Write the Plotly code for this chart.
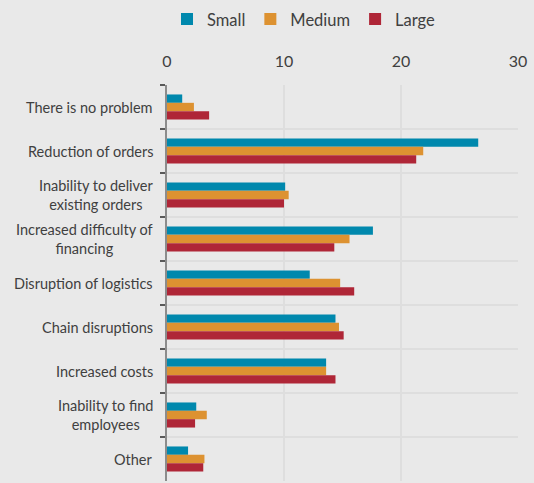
import plotly.graph_objects as go

# Obstacles reported by firm size (values in %)
categories = [
    "There is no problem",
    "Reduction of orders",
    "Inability to deliver existing orders",
    "Increased difficulty of financing",
    "Disruption of logistics",
    "Chain disruptions",
    "Increased costs",
    "Inability to find employees",
    "Other",
]
category_labels = [
    "There is no problem",
    "Reduction of orders",
    "Inability to deliver<br>existing orders",
    "Increased difficulty of<br>financing",
    "Disruption of logistics",
    "Chain disruptions",
    "Increased costs",
    "Inability to find<br>employees",
    "Other",
]
small = [1.3, 26.6, 10.1, 17.6, 12.2, 14.4, 13.6, 2.5, 1.8]
medium = [2.3, 21.9, 10.4, 15.6, 14.8, 14.7, 13.6, 3.4, 3.2]
large = [3.6, 21.3, 10.0, 14.3, 16.0, 15.1, 14.4, 2.4, 3.1]
x_ticks = [0, 10, 20, 30]

series = [
    ("Small", small, "#0088AD"),
    ("Medium", medium, "#DD9231"),
    ("Large", large, "#AF2637"),
]

TEXT = "#404040"
BG = "#E9E9E9"
FONT = "Lato, Calibri, sans-serif"

fig = go.Figure()
for name, vals, color in series:
    fig.add_trace(go.Bar(
        name=name, y=categories, x=vals, orientation="h",
        marker=dict(color=color, line=dict(width=0)),
    ))

# Category labels: right-aligned blocks, lines centred within each block
for cat, lab in zip(categories, category_labels):
    fig.add_annotation(
        x=0, xref="paper", y=cat, yref="y", text=lab, showarrow=False,
        xanchor="right", align="center", xshift=-12,
        font=dict(family=FONT, size=14.5, color=TEXT),
    )

fig.update_layout(
    width=534, height=483,
    margin=dict(l=167, r=16, t=83, b=2),
    paper_bgcolor=BG, plot_bgcolor=BG,
    barmode="group", bargap=0.43, bargroupgap=0,
    font=dict(family=FONT, color=TEXT),
    legend=dict(
        orientation="h", x=0.0, xanchor="left", y=1.21, yanchor="top",
        font=dict(family=FONT, size=16.5, color=TEXT),
        bgcolor="rgba(0,0,0,0)", itemclick=False,
    ),
    showlegend=True,
)
fig.update_xaxes(
    side="top", range=[0, 30], tickvals=x_ticks,
    tickfont=dict(family=FONT, size=16, color=TEXT),
    showgrid=True, gridcolor="#DEDEDE", gridwidth=2,
    zeroline=False, showline=False, ticks="", ticklabelstandoff=14,
)
fig.update_yaxes(
    autorange="reversed", type="category", showticklabels=False,
    tickson="boundaries", ticks="outside", ticklen=5, tickwidth=1.5,
    tickcolor="#595959",
    showgrid=True, gridcolor="#DEDEDE", gridwidth=2,
    showline=True, linecolor="#8C8C8C", linewidth=2, zeroline=False,
)

fig.write_html("out.html")
